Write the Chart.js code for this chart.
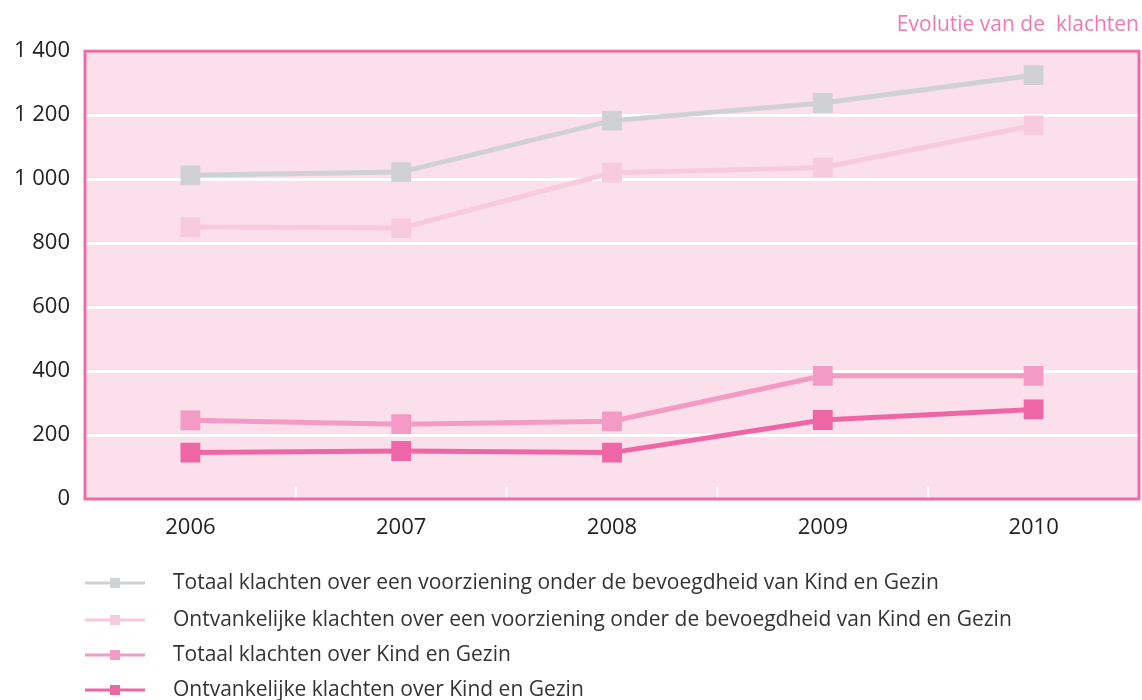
<!DOCTYPE html>
<html><head><meta charset="utf-8">
<script src="https://cdn.jsdelivr.net/npm/chart.js@4"></script>
<style>html,body{margin:0;padding:0;background:#fff}#wrap{width:1142px;height:700px;position:relative}</style>
</head><body><div id="wrap"><canvas id="c" width="1142" height="700"></canvas></div>
<script>
const categories = ['2006','2007','2008','2009','2010'];
const totaalVoorziening = [1012, 1022, 1183, 1238, 1325];
const ontvankelijkVoorziening = [850, 847, 1020, 1036, 1168];
const totaalKG = [246, 234, 243, 385, 385];
const ontvankelijkKG = [145, 150, 145, 247, 280];
const seriesNames = [
  'Totaal klachten over een voorziening onder de bevoegdheid van Kind en Gezin',
  'Ontvankelijke klachten over een voorziening onder de bevoegdheid van Kind en Gezin',
  'Totaal klachten over Kind en Gezin',
  'Ontvankelijke klachten over Kind en Gezin'
];
const yTicks = [0, 200, 400, 600, 800, 1000, 1200, 1400];
const titleText = 'Evolutie van de  klachten';
const colors = ['#d0d1d3', '#f8cade', '#f39bc4', '#ef66a6'];
const FONT = "'Open Sans', 'DejaVu Sans', sans-serif";

const mk = (label, data, color) => ({
  label, data, borderColor: color, backgroundColor: color,
  borderWidth: 5, tension: 0, pointStyle: 'rect', pointRadius: 14,
  pointHoverRadius: 14, pointBorderWidth: 0, pointBackgroundColor: color
});

const framePlugin = {
  id: 'frame',
  beforeDatasetsDraw(chart) {
    const {ctx, chartArea: a, scales: {x}} = chart;
    ctx.save();
    ctx.strokeStyle = '#ffffff';
    ctx.lineWidth = 2;
    for (let i = 0; i < categories.length - 1; i++) {
      const px = (x.getPixelForTick(i) + x.getPixelForTick(i + 1)) / 2;
      ctx.beginPath();
      ctx.moveTo(px, a.bottom - 12);
      ctx.lineTo(px, a.bottom - 2);
      ctx.stroke();
    }
    ctx.strokeStyle = '#f06aa8';
    ctx.lineWidth = 3;
    ctx.strokeRect(a.left, a.top, a.right - a.left, a.bottom - a.top);
    ctx.restore();
  },
  beforeDraw(chart) {
    const {ctx, chartArea: a} = chart;
    ctx.save();
    ctx.fillStyle = '#fbdfea';
    ctx.fillRect(a.left, a.top, a.right - a.left, a.bottom - a.top);
    ctx.restore();
  },
  afterDraw(chart) {
    const {ctx, chartArea: a} = chart;
    const offsets = [84, 121, 156, 191];
    ctx.save();
    chart.data.datasets.forEach((ds, i) => {
      const y = a.bottom + offsets[i];
      ctx.strokeStyle = ds.borderColor;
      ctx.lineWidth = 3;
      ctx.beginPath();
      ctx.moveTo(a.left, y);
      ctx.lineTo(a.left + 60, y);
      ctx.stroke();
      ctx.fillStyle = ds.borderColor;
      ctx.fillRect(a.left + 25, y - 5, 10, 10);
      ctx.fillStyle = '#333333';
      ctx.font = '21px ' + FONT;
      ctx.textBaseline = 'middle';
      ctx.textAlign = 'left';
      ctx.fillText(ds.label, a.left + 88, y);
    });
    ctx.restore();
  }
};

new Chart(document.getElementById('c'), {
  type: 'line',
  data: {
    labels: categories,
    datasets: [
      mk(seriesNames[0], totaalVoorziening, colors[0]),
      mk(seriesNames[1], ontvankelijkVoorziening, colors[1]),
      mk(seriesNames[2], totaalKG, colors[2]),
      mk(seriesNames[3], ontvankelijkKG, colors[3])
    ]
  },
  options: {
    responsive: false,
    animation: false,
    layout: { autoPadding: false, padding: { left: 0, right: 3, top: 0, bottom: 0 } },
    plugins: {
      legend: { display: false },
      tooltip: { enabled: false },
      title: {
        display: true, text: titleText, align: 'end', color: '#f07ab0',
        font: { family: FONT, size: 21, weight: 'normal' },
        padding: { top: 12, bottom: 14 }
      }
    },
    scales: {
      x: {
        offset: true,
        grid: { display: false, drawTicks: false },
        border: { display: false },
        ticks: { color: '#222', font: { family: FONT, size: 22 }, padding: 16 },
        afterFit(s) { s.height = 201; }
      },
      y: {
        min: 0, max: 1400,
        afterBuildTicks(s) { s.ticks = yTicks.map(v => ({ value: v })); },
        grid: { color: '#ffffff', lineWidth: 3, drawTicks: false },
        border: { display: false },
        ticks: {
          color: '#222', font: { family: FONT, size: 22 }, padding: 15,
          callback: v => String(v).replace(/\B(?=(\d{3})+(?!\d))/g, ' ')
        },
        afterFit(s) { s.width = 85; }
      }
    }
  },
  plugins: [framePlugin]
});
</script></body></html>
